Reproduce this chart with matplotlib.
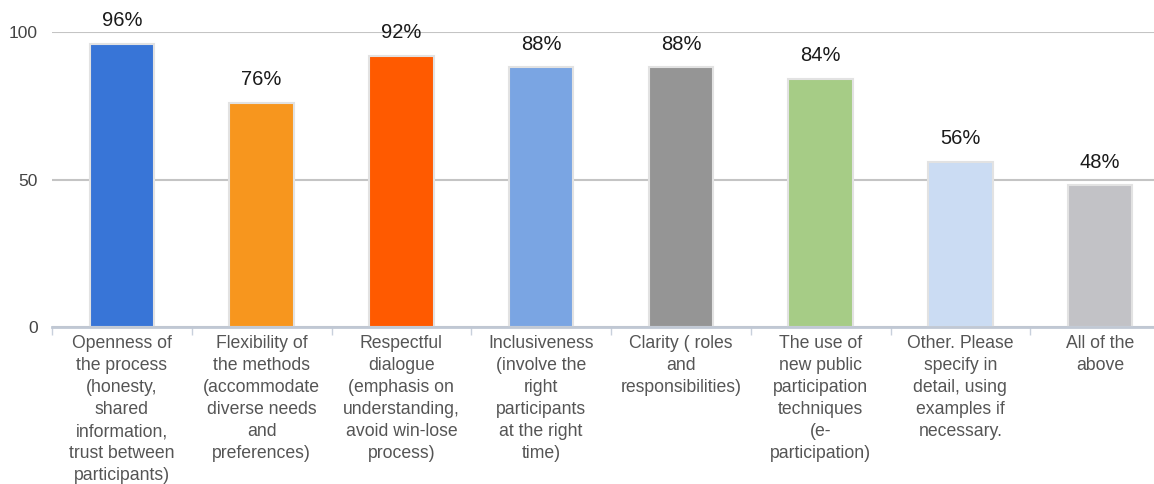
import numpy as np
import matplotlib
matplotlib.use("Agg")
import matplotlib.pyplot as plt

plt.rcParams['font.family'] = ['Liberation Sans', 'DejaVu Sans']

categories = [
    "Openness of\nthe process\n(honesty,\nshared\ninformation,\ntrust between\nparticipants)",
    "Flexibility of\nthe methods\n(accommodate\ndiverse needs\nand\npreferences)",
    "Respectful\ndialogue\n(emphasis on\nunderstanding,\navoid win-lose\nprocess)",
    "Inclusiveness\n(involve the\nright\nparticipants\nat the right\ntime)",
    "Clarity ( roles\nand\nresponsibilities)",
    "The use of\nnew public\nparticipation\ntechniques\n(e-\nparticipation)",
    "Other. Please\nspecify in\ndetail, using\nexamples if\nnecessary.",
    "All of the\nabove",
]
values = [96, 76, 92, 88, 88, 84, 56, 48]
colors = ["#3875d7", "#f7961e", "#ff5a00", "#7aa5e3",
          "#959595", "#a6cc86", "#cbdcf3", "#c2c2c6"]

fig = plt.figure(figsize=(11.54, 4.84), dpi=100)
ax = fig.add_axes([52/1154, 1 - 327/484, (1170 - 52)/1154, 295/484])

x = np.arange(len(values))
bars = ax.bar(x, values, width=0.46, color=colors, edgecolor="#e2e2e2",
              linewidth=1.5, zorder=3)

for b, v in zip(bars, values):
    ax.annotate(f"{v}%", (b.get_x() + b.get_width()/2, v),
                xytext=(0, 10), textcoords="offset points",
                ha="center", va="bottom", fontsize=14.5, color="#1a1a1a",
                annotation_clip=False)

ax.set_xlim(-0.5, len(values) - 0.5)
ax.set_ylim(0, 100)
ax.set_yticks([0, 50, 100])
ax.tick_params(axis='y', length=0, pad=10, labelsize=12.5, labelcolor="#444444")
ax.yaxis.grid(True, color="#c4c4c4", linewidth=1.5, zorder=0)

ax.set_xticks(x)
ax.set_xticklabels(categories, fontsize=12.7, color="#555555", linespacing=1.38)
ax.tick_params(axis='x', which='major', length=0, pad=6)
ax.set_xticks(np.arange(len(values) + 1) - 0.5, minor=True)
ax.tick_params(axis='x', which='minor', length=6, width=1, color="#c8d0dc")

for s in ["top", "right", "left"]:
    ax.spines[s].set_visible(False)
ax.spines["bottom"].set_color("#c0c8d4")
ax.spines["bottom"].set_linewidth(2)
ax.spines["bottom"].set_zorder(4)

fig.savefig("out.png", dpi=100)
